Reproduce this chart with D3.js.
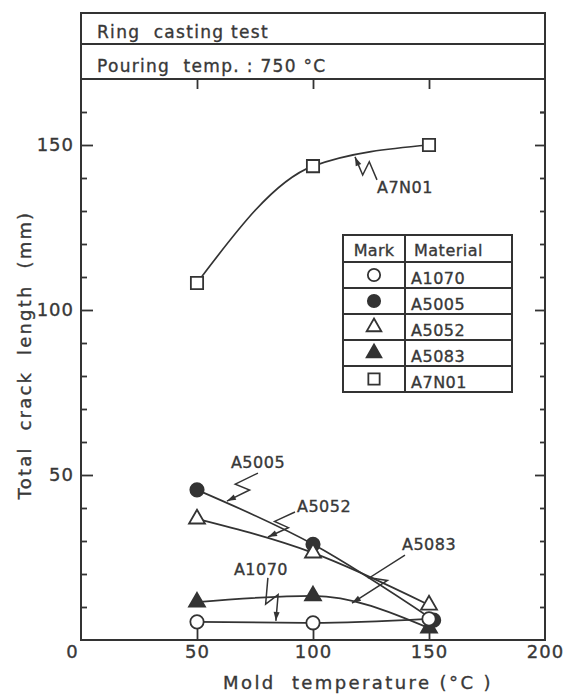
<!DOCTYPE html>
<html>
<head>
<meta charset="utf-8">
<script src="https://cdn.jsdelivr.net/npm/d3@7"></script>
<style>
  body { margin: 0; background: #fff; }
  text { font-family: "DejaVu Sans", sans-serif; fill: #383838; stroke: #383838; stroke-width: 0.35; white-space: pre; }
</style>
</head>
<body>
<div id="chart"></div>
<script>
// data
var temps = [50, 100, 150];
var materials = ["A1070", "A5005", "A5052", "A5083", "A7N01"];
var a1070 = [5.5, 5.2, 6.4];
var a5005 = [45.5, 29, 6];
var a5005Temps = [50, 100, 152];
var a5052 = [36.7, 26.4, 10.6];
var a5083 = [11.5, 13.4, 3.6];
var a7n01 = [108.2, 143.6, 150];

var xTicks = [0, 50, 100, 150, 200];
var yTicks = [50, 100, 150];
var headerLines = ["Ring  casting test", "Pouring  temp. : 750 °C"];

// leader-line callouts: label, temperature and length where the arrow points
var calloutLabels = ["A7N01", "A5005", "A5052", "A5083", "A1070"];
var calloutTemps = [118.1, 62.9, 80.6, 116.8, 84];
var calloutValues = [146.4, 42.1, 31.2, 11.2, 5.8];

var width = 563,
    height = 695,
    ink = '#333';

var svg = d3.select('#chart')
    .append('svg')
    .attr('width', width)
    .attr('height', height);

var x = d3.scaleLinear().domain([0, 200]).range([81, 545]);
var y = d3.scaleLinear().domain([0, 150]).range([640, 145]);

var frameTop = 13,
    headRow = 44,
    plotTop = 79;

// frame and header rows
svg.append('rect')
    .attr('x', x(0)).attr('y', frameTop)
    .attr('width', x(200) - x(0)).attr('height', y(0) - frameTop)
    .attr('fill', 'none').attr('stroke', ink).attr('stroke-width', 2);
[headRow, plotTop].forEach(function(yy) {
    svg.append('line')
        .attr('x1', x(0)).attr('x2', x(200))
        .attr('y1', yy).attr('y2', yy)
        .attr('stroke', ink).attr('stroke-width', 2);
});
svg.selectAll('.head')
    .data(headerLines)
    .enter()
    .append('text')
    .attr('class', 'head')
    .attr('x', 97)
    .attr('y', function(d, i) { return i ? 72 : 38; })
    .attr('font-size', 17)
    .attr('letter-spacing', 1.3)
    .text(function(d) { return d; });

// axes
function clean(g) {
    g.select('.domain').remove();
    g.selectAll('line').attr('stroke', ink).attr('stroke-width', 1.8);
    g.selectAll('text').attr('font-size', 18).attr('letter-spacing', 1).attr('fill', '#383838');
}
var minor = d3.range(10, 170, 10).filter(function(v) { return v % 50; });

svg.append('g')
    .attr('transform', 'translate(' + x(0) + ',0)')
    .call(d3.axisLeft(y).tickValues(yTicks).tickSizeInner(-12).tickSizeOuter(0).tickPadding(7))
    .call(clean);
svg.append('g')
    .attr('transform', 'translate(' + x(0) + ',0)')
    .call(d3.axisLeft(y).tickValues(minor).tickSize(-6).tickFormat(''))
    .call(clean);
svg.append('g')
    .attr('transform', 'translate(' + x(200) + ',0)')
    .call(d3.axisRight(y).tickValues(yTicks).tickSize(-10).tickFormat(''))
    .call(clean);
svg.append('g')
    .attr('transform', 'translate(' + x(200) + ',0)')
    .call(d3.axisRight(y).tickValues(minor.concat([160])).tickSize(-5).tickFormat(''))
    .call(clean);
var xg = svg.append('g')
    .attr('transform', 'translate(0,' + y(0) + ')')
    .call(d3.axisBottom(x).tickValues(xTicks).tickSizeInner(-11).tickSizeOuter(0).tickPadding(5))
    .call(clean);
xg.selectAll('.tick').filter(function(d) { return d === 0; }).select('text').attr('dx', -9);
xg.selectAll('.tick').filter(function(d) { return d === 0 || d === 200; }).select('line').remove();
svg.append('g')
    .attr('transform', 'translate(0,' + plotTop + ')')
    .call(d3.axisTop(x).tickValues([50, 100, 150]).tickSize(-10).tickFormat(''))
    .call(clean);

// axis titles
svg.append('text')
    .attr('x', 358).attr('y', 689)
    .attr('text-anchor', 'middle')
    .attr('font-size', 18)
    .attr('letter-spacing', 2.4)
    .text('Mold  temperature (°C )');
svg.append('text')
    .attr('transform', 'translate(31,355) rotate(-90)')
    .attr('text-anchor', 'middle')
    .attr('font-size', 18)
    .attr('letter-spacing', 2.2)
    .text('Total  crack  length  (mm)');

// series
var series = [
    { name: 'A5083', t: temps, v: a5083, sym: d3.symbolTriangle, fill: ink },
    { name: 'A5005', t: a5005Temps, v: a5005, sym: d3.symbolCircle, fill: ink },
    { name: 'A5052', t: temps, v: a5052, sym: d3.symbolTriangle, fill: '#fff' },
    { name: 'A1070', t: temps, v: a1070, sym: d3.symbolCircle, fill: '#fff' },
    { name: 'A7N01', t: temps, v: a7n01, sym: d3.symbolSquare, fill: '#fff' }
];
function sizeOf(sym) {
    return sym === d3.symbolCircle ? 140 : sym === d3.symbolTriangle ? 110 : 150;
}

var line = d3.line()
    .x(function(d) { return x(d[0]); })
    .y(function(d) { return y(d[1]); })
    .curve(d3.curveMonotoneX);

series.forEach(function(s) {
    svg.append('path')
        .datum(d3.zip(s.t, s.v))
        .attr('d', line)
        .attr('fill', 'none')
        .attr('stroke', ink)
        .attr('stroke-width', 1.7);
});
series.forEach(function(s) {
    svg.selectAll(null)
        .data(d3.zip(s.t, s.v))
        .enter()
        .append('path')
        .attr('d', d3.symbol().type(s.sym).size(sizeOf(s.sym)))
        .attr('transform', function(d) { return 'translate(' + x(d[0]) + ',' + y(d[1]) + ')'; })
        .attr('fill', s.fill)
        .attr('stroke', ink)
        .attr('stroke-width', 1.8);
});

// callouts with zig-zag leaders
var calloutOffsets = {
    A7N01: { sx: 22, sy: 23, tx: 22, ty: 36 },
    A5005: { sx: 31, sy: -28, tx: 4, ty: -33 },
    A5052: { sx: 27, sy: -25, tx: 29, ty: -25 },
    A5083: { sx: 53, sy: -48, tx: 50, ty: -53 },
    A1070: { sx: -8, sy: -43, tx: -42, ty: -46 }
};
calloutLabels.forEach(function(name, i) {
    var tx = x(calloutTemps[i]), ty = y(calloutValues[i]),
        o = calloutOffsets[name],
        sx = tx + o.sx, sy = ty + o.sy,
        dx = tx - sx, dy = ty - sy,
        len = Math.sqrt(dx * dx + dy * dy),
        ux = dx / len, uy = dy / len,
        nx = -uy, ny = ux,
        k = 7;
    var pts = [
        [sx, sy],
        [sx + dx * 0.58 + nx * k, sy + dy * 0.58 + ny * k],
        [sx + dx * 0.42 - nx * k, sy + dy * 0.42 - ny * k],
        [tx, ty]
    ];
    svg.append('path')
        .attr('d', d3.line()(pts))
        .attr('fill', 'none')
        .attr('stroke', ink)
        .attr('stroke-width', 1.5)
        .attr('stroke-linejoin', 'miter');
    // arrow head
    var bx = pts[2][0], by = pts[2][1],
        ax = tx - bx, ay = ty - by,
        al = Math.sqrt(ax * ax + ay * ay);
    ax /= al; ay /= al;
    svg.append('path')
        .attr('d', d3.line()([
            [tx, ty],
            [tx - ax * 9 - ay * 3, ty - ay * 9 + ax * 3],
            [tx - ax * 9 + ay * 3, ty - ay * 9 - ax * 3]
        ]) + 'Z')
        .attr('fill', ink);
    svg.append('text')
        .attr('x', tx + o.tx)
        .attr('y', ty + o.ty)
        .attr('font-size', 16)
        .attr('letter-spacing', 0.5)
        .text(name);
});

// legend table
var lg = { x0: 343, x1: 405, x2: 512, top: 235, head: 27, row: 26 };
var legendRows = materials.map(function(m) {
    return series.filter(function(s) { return s.name === m; })[0];
});
var lgBottom = lg.top + lg.head + lg.row * materials.length;
svg.append('rect')
    .attr('x', lg.x0).attr('y', lg.top)
    .attr('width', lg.x2 - lg.x0).attr('height', lgBottom - lg.top)
    .attr('fill', '#fff').attr('stroke', ink).attr('stroke-width', 2);
svg.append('line')
    .attr('x1', lg.x1).attr('x2', lg.x1).attr('y1', lg.top).attr('y2', lgBottom)
    .attr('stroke', ink).attr('stroke-width', 2);
legendRows.forEach(function(s, i) {
    var top = lg.top + lg.head + lg.row * i;
    svg.append('line')
        .attr('x1', lg.x0).attr('x2', lg.x2).attr('y1', top).attr('y2', top)
        .attr('stroke', ink).attr('stroke-width', 2);
    svg.append('path')
        .attr('d', d3.symbol().type(s.sym).size(sizeOf(s.sym) * 0.85))
        .attr('transform', 'translate(' + (lg.x0 + lg.x1) / 2 + ',' + (top + lg.row / 2) + ')')
        .attr('fill', s.fill)
        .attr('stroke', ink)
        .attr('stroke-width', 1.8);
    svg.append('text')
        .attr('x', lg.x1 + 6)
        .attr('y', top + 22)
        .attr('font-size', 16)
        .attr('letter-spacing', 0.5)
        .text(s.name);
});
svg.append('text')
    .attr('x', (lg.x0 + lg.x1) / 2).attr('y', lg.top + 21)
    .attr('text-anchor', 'middle')
    .attr('font-size', 16)
    .attr('letter-spacing', 0.3)
    .text('Mark');
svg.append('text')
    .attr('x', lg.x1 + 9).attr('y', lg.top + 21)
    .attr('font-size', 16)
    .attr('letter-spacing', 0.5)
    .text('Material');
</script>
</body>
</html>
